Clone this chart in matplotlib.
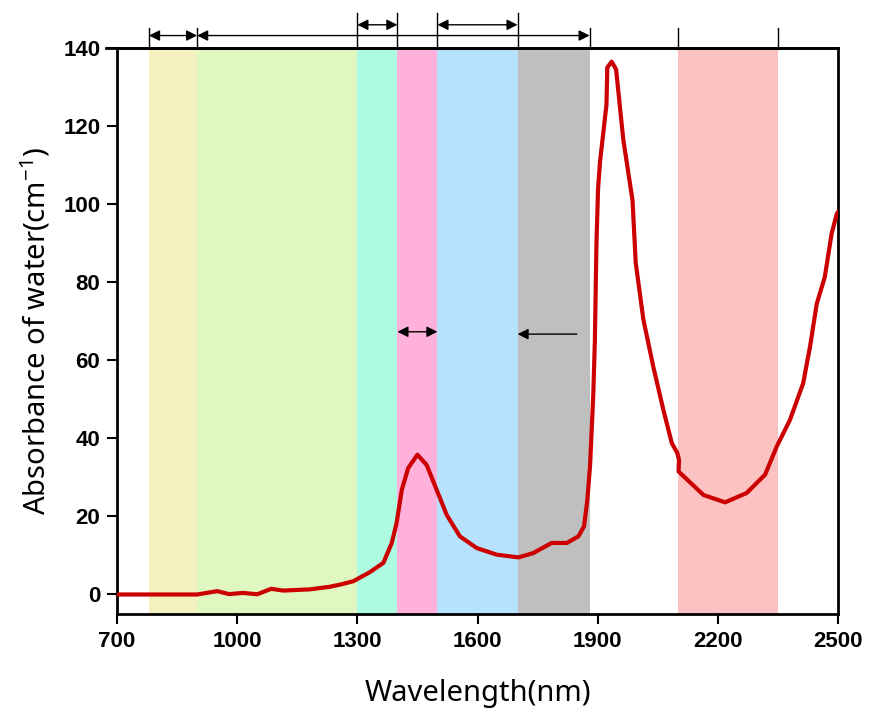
import matplotlib
matplotlib.use("Agg")
import matplotlib.pyplot as plt

# ---- data ----
wavelength = [700, 780, 900, 950, 980, 1015, 1050, 1085, 1115, 1180, 1230, 1260,
              1290, 1331, 1365, 1386, 1398, 1411, 1427, 1450, 1473, 1498, 1523,
              1556, 1598, 1648, 1702, 1739, 1785, 1823, 1852, 1866, 1874, 1881,
              1889, 1893, 1897, 1901, 1906, 1922, 1924, 1935, 1946, 1964, 1987,
              1995, 2014, 2039, 2064, 2085, 2099, 2103, 2102, 2164, 2218, 2272,
              2318, 2347, 2380, 2413, 2430, 2447, 2467, 2484, 2497, 2500]
absorbance = [0, 0, 0, 0.85, 0.1, 0.4, 0.05, 1.45, 1.0, 1.3, 1.95, 2.6,
              3.4, 5.7, 8.1, 13.2, 18.3, 26.8, 32.4, 35.8, 33.2, 26.8, 20.4,
              14.9, 11.9, 10.2, 9.5, 10.6, 13.2, 13.2, 14.9, 17.5, 24, 33,
              51, 65, 90, 104, 111, 125.5, 135, 136.5, 134.5, 116.5, 101,
              85, 70.5, 58.3, 47.3, 38.8, 36.2, 34.5, 31.5, 25.5, 23.6, 26,
              30.7, 37.9, 44.7, 54.1, 63.4, 74.5, 81.3, 92.4, 97.5, 98]

band_edges = [(780, 900), (900, 1300), (1300, 1400), (1400, 1500),
              (1500, 1700), (1700, 1880), (2100, 2350)]
band_colors = ['#F5F1BF', '#E0F7C1', '#ADFBE1', '#FFB1DC',
               '#B6E3FB', '#BFBFBF', '#FCC1C1']

short_marks = [780, 900, 1880, 2100, 2350]
long_marks = [1300, 1400, 1500, 1700]
top_low_arrows = [(780, 900), (900, 1880)]
top_high_arrows = [(1300, 1400), (1500, 1700)]

xticks = [700, 1000, 1300, 1600, 1900, 2200, 2500]
yticks = [0, 20, 40, 60, 80, 100, 120, 140]

# ---- figure ----
fig = plt.figure(figsize=(8.71, 7.13), dpi=100)
ax = fig.add_axes([117/871, 1-614/713, (838-117)/871, (614-48)/713])

for (a, b), c in zip(band_edges, band_colors):
    ax.axvspan(a, b, color=c, lw=0, zorder=0)

ax.plot(wavelength, absorbance, color='#CC0000', lw=3, zorder=3,
        solid_joinstyle='round')

ax.set_xlim(700, 2500)
ax.set_ylim(-5, 140)
ax.set_xticks(xticks)
ax.set_yticks(yticks)

tick_font = dict(family=['Liberation Sans', 'DejaVu Sans'], weight='bold', size=16)
ax.set_xticklabels([str(t) for t in xticks], **tick_font)
ax.set_yticklabels([str(t) for t in yticks], **tick_font)
ax.tick_params(direction='out', length=7, width=1.5, pad=5)
for s in ax.spines.values():
    s.set_linewidth(2)

lab_font = dict(family=['Noto Sans', 'DejaVu Sans'], size=21)
ax.set_xlabel('Wavelength(nm)', labelpad=20, **lab_font)
ax.set_ylabel(r'Absorbance of water(cm$^{\mathregular{-1}}$)', labelpad=8, **lab_font)

trans = ax.get_xaxis_transform()
# extended top line
ax.plot([-0.015, 1.0], [1.0, 1.0], transform=ax.transAxes, color='black',
        lw=2, clip_on=False, zorder=5)
for m in short_marks:
    ax.plot([m, m], [1.0, 1.035], transform=trans, color='black', lw=1,
            clip_on=False)
for m in long_marks:
    ax.plot([m, m], [1.0, 1.062], transform=trans, color='black', lw=1,
            clip_on=False)

arrow_kw = dict(arrowstyle='<|-|>', color='black', lw=1, mutation_scale=16,
                shrinkA=0, shrinkB=0)
for a, b in top_low_arrows:
    ax.annotate('', xy=(b, 1.022), xytext=(a, 1.022), xycoords=trans,
                textcoords=trans, arrowprops=arrow_kw, annotation_clip=False)
for a, b in top_high_arrows:
    ax.annotate('', xy=(b, 1.041), xytext=(a, 1.041), xycoords=trans,
                textcoords=trans, arrowprops=arrow_kw, annotation_clip=False)

# inner arrows
ax.annotate('', xy=(1500, 67.3), xytext=(1400, 67.3),
            arrowprops=arrow_kw, zorder=4)
ax.annotate('', xy=(1700, 66.7), xytext=(1848, 66.7),
            arrowprops=dict(arrowstyle='-|>', color='black', lw=1,
                            mutation_scale=16, shrinkA=0, shrinkB=0), zorder=4)

fig.savefig('out.png', dpi=100)
